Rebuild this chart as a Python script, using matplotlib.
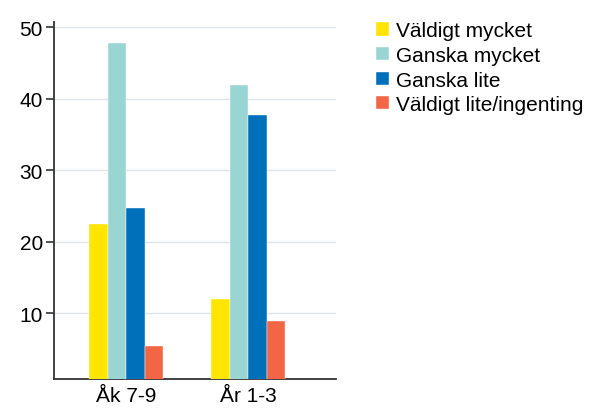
import numpy as np
import matplotlib.pyplot as plt

groups = ["Åk 7-9", "År 1-3"]
series = ["Väldigt mycket", "Ganska mycket", "Ganska lite", "Väldigt lite/ingenting"]
values = {
    "Väldigt mycket": [22.4, 12.0],
    "Ganska mycket": [47.8, 41.9],
    "Ganska lite": [24.7, 37.7],
    "Väldigt lite/ingenting": [5.4, 8.9],
}
colors = ["#FFE500", "#99D5D3", "#0070BA", "#F26645"]
yticks = [10, 20, 30, 40, 50]

plt.rcParams['font.family'] = ['Liberation Sans', 'DejaVu Sans']

fig = plt.figure(figsize=(5.89, 4.10), dpi=100)
ax = fig.add_axes([54/589, 1 - 380/410, (336 - 54)/589, (380 - 23)/410])

x = np.arange(len(groups))
w = 0.152
for i, s in enumerate(series):
    ax.bar(x + (i - 1.5) * w, values[s], w, color=colors[i], label=s,
           edgecolor="white", linewidth=0.3, zorder=3)

ax.set_xlim(-0.593, 1.72)
ax.set_ylim(0.8, 50.7)
ax.set_yticks(yticks)
ax.set_xticks(x)
ax.set_xticklabels(groups)
ax.yaxis.grid(True, color="#dde3ea", linewidth=1, zorder=0)
ax.set_axisbelow(True)

for side in ["top", "right"]:
    ax.spines[side].set_visible(False)
for side in ["left", "bottom"]:
    ax.spines[side].set_color("#333333")
    ax.spines[side].set_linewidth(1.3)

ax.tick_params(axis="y", length=6, width=1.2, color="#333333", labelsize=15, pad=2)
ax.tick_params(axis="x", length=0, labelsize=15, pad=5)

fig.legend(loc="upper left", bbox_to_anchor=(368/589, 1 - 14/410), frameon=False,
           fontsize=15, handlelength=0.6, handleheight=0.6, handletextpad=0.35,
           labelspacing=0.27, borderaxespad=0)

fig.savefig("out.png", dpi=100)
